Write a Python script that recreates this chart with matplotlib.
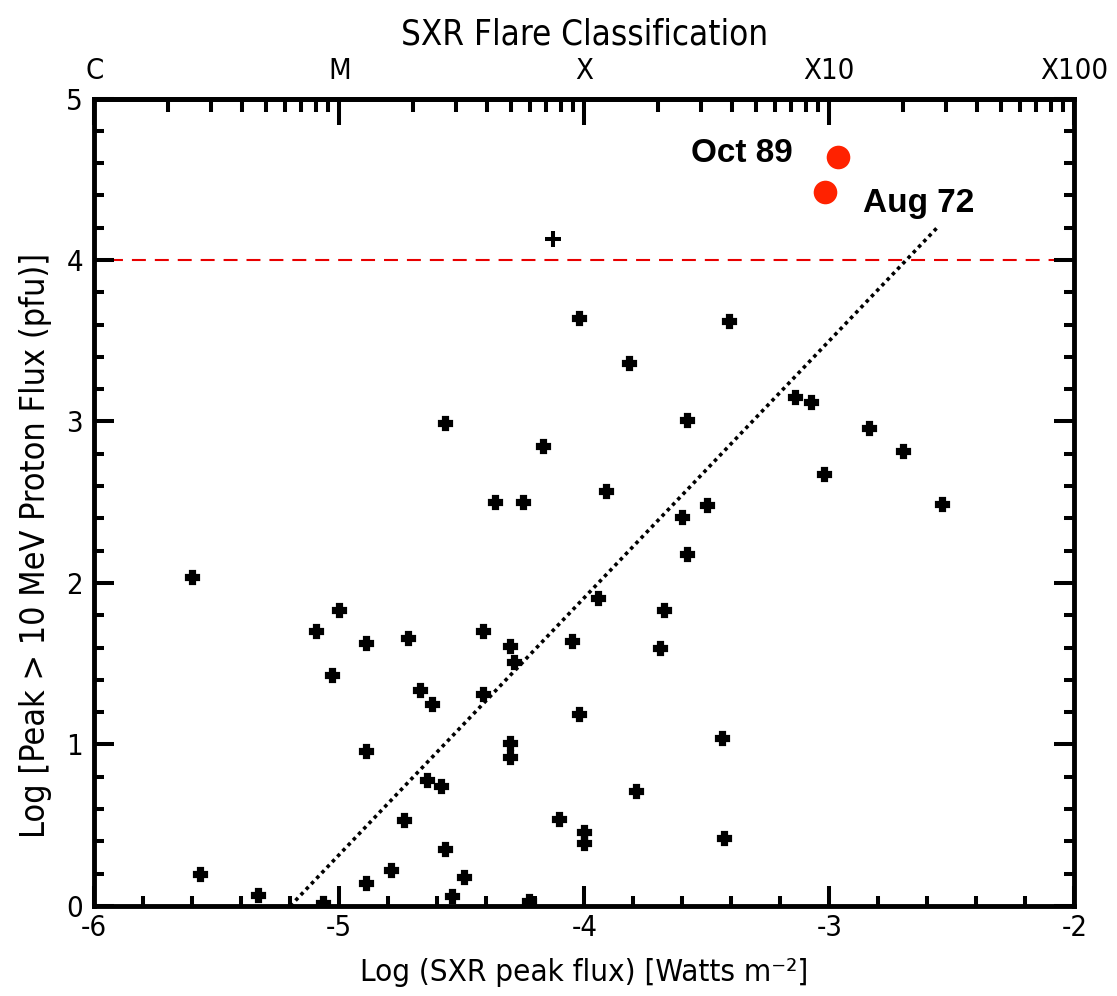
import numpy as np
import matplotlib
matplotlib.use("Agg")
import matplotlib.pyplot as plt
from matplotlib import font_manager
from matplotlib.ticker import MultipleLocator, FixedLocator, FixedFormatter

# top axis: flare class for each decade of SXR flux
class_ticks = [-6, -5, -4, -3, -2]
class_labels = ["C", "M", "X", "X10", "X100"]

# log SXR peak flux vs log peak >10 MeV proton flux
sxr_flux = [
    -5.60, -5.57, -5.33, -5.095, -5.00, -5.03, -5.065, -4.89, -4.89, -4.89,
    -4.79, -4.735, -4.72, -4.67, -4.62, -4.64, -4.585, -4.57, -4.57, -4.54,
    -4.49, -4.415, -4.415, -4.365, -4.305, -4.285, -4.305, -4.305, -4.25, -4.225,
    -4.17, -4.105, -4.05, -4.02, -4.02, -4.00, -4.00, -3.945, -3.913, -3.816,
    -3.79, -3.69, -3.675, -3.60, -3.58, -3.58, -3.50, -3.44, -3.43, -3.41,
    -3.14, -3.076, -3.02, -2.837, -2.70, -2.54,
]
proton_flux = [
    2.04, 0.20, 0.07, 1.70, 1.83, 1.43, 0.02, 1.63, 0.96, 0.14,
    0.22, 0.53, 1.66, 1.34, 1.25, 0.78, 0.74, 2.99, 0.35, 0.06,
    0.18, 1.70, 1.31, 2.50, 1.61, 1.51, 1.01, 0.92, 2.50, 0.03,
    2.85, 0.54, 1.64, 3.64, 1.19, 0.46, 0.39, 1.91, 2.57, 3.36,
    0.71, 1.60, 1.83, 2.41, 3.01, 2.18, 2.48, 1.04, 0.42, 3.62,
    3.15, 3.12, 2.675, 2.96, 2.82, 2.49,
]

# single event drawn with a thin plus
odd_flux = [-4.128]
odd_proton = [4.13]

# the two big events
big_names = ["Oct 89", "Aug 72"]
big_flux = [-2.964, -3.017]
big_proton = [4.64, 4.42]

# fit line end points and the 10^4 pfu threshold
fit_flux = [-5.20, -2.56]
fit_proton = [0.0, 4.20]
threshold = 4.0
threshold_span = [-5.94, -2.015]


def find_narrow_font():
    # look for any condensed / narrow sans face that is installed
    prefs = ["LiberationSansNarrow-Regular", "DejaVuSansCondensed.",
             "NotoSans-Condensed.", "NotoSans-CondensedRegular",
             "RobotoCondensed-Regular", "OpenSans_Condensed-Regular",
             "OpenSans-CondensedRegular"]
    entries = font_manager.fontManager.ttflist
    for p in prefs:
        for e in entries:
            if p in e.fname.split("/")[-1]:
                return e
    for e in entries:
        fn = e.fname.split("/")[-1].lower()
        if ("condensed" in fn or "narrow" in fn) and "bold" not in fn \
                and "italic" not in fn and "oblique" not in fn and e.weight in (400, "normal", "regular"):
            return e
    return None


narrow = find_narrow_font()
if narrow is not None:
    plt.rcParams["font.family"] = narrow.name
    plt.rcParams["font.stretch"] = narrow.stretch
    k = 1.0
else:
    plt.rcParams["font.family"] = "DejaVu Sans"
    k = 0.8
plt.rcParams["axes.unicode_minus"] = False

names = {f.name for f in font_manager.fontManager.ttflist}
BOLD = "Liberation Sans" if "Liberation Sans" in names else "DejaVu Sans"

fig = plt.figure(figsize=(11.17, 9.96), dpi=100)
ax = fig.add_axes([0.0844, 0.0904, 0.8774, 0.8107])

ax.plot(fit_flux, fit_proton, color="black", lw=2.6,
        linestyle=(0, (1, 1.1)), zorder=2)
ax.hlines(threshold, threshold_span[0], threshold_span[1], color="#e80000",
          lw=1.5, linestyles=(0, (6.7, 4.3)), zorder=1)

ax.plot(sxr_flux, proton_flux, linestyle="none", marker="P", ms=8.8,
        mew=2.3, mfc="black", mec="black", zorder=3)
ax.plot(odd_flux, odd_proton, linestyle="none", marker="+", ms=11,
        mew=2.9, color="black", zorder=3)
ax.plot(big_flux, big_proton, linestyle="none", marker="o", ms=17,
        mew=0, color="#ff2200", zorder=4)

ax.text(big_flux[0] - 0.184, big_proton[0] - 0.033, big_names[0], ha="right",
        va="baseline", fontsize=24, fontweight="bold", family=BOLD,
        fontstretch="normal")
ax.text(big_flux[1] + 0.154, big_proton[1] - 0.124, big_names[1], ha="left",
        va="baseline", fontsize=24, fontweight="bold", family=BOLD,
        fontstretch="normal")

ax.set_xlim(-6, -2)
ax.set_ylim(0, 5)

for s in ax.spines.values():
    s.set_linewidth(3.5)

ax.xaxis.set_major_locator(MultipleLocator(1))
ax.xaxis.set_minor_locator(MultipleLocator(0.2))
ax.yaxis.set_major_locator(MultipleLocator(1))
ax.yaxis.set_minor_locator(MultipleLocator(0.2))
ax.tick_params(which="both", direction="in", width=2.9, top=False,
               right=True, labelsize=21 * k, colors="black")
ax.tick_params(which="major", length=14.5)
ax.tick_params(which="minor", length=7.5)
ax.tick_params(axis="x", pad=6)
ax.tick_params(axis="y", pad=8)

ax.set_xlabel("Log (SXR peak flux) [Watts m\u207b\u00b2]",
              fontsize=22.5 * k, labelpad=11)
ax.set_ylabel("Log [Peak > 10 MeV Proton Flux (pfu)]", fontsize=24.5 * k)
ax.yaxis.set_label_coords(-0.043, 0.447)

# flare class axis along the top, log spaced minor ticks inside each decade
top = ax.secondary_xaxis("top")
minor_pos = [d + np.log10(m) for d in class_ticks[:-1] for m in range(2, 10)]
top.xaxis.set_major_locator(FixedLocator(class_ticks))
top.xaxis.set_major_formatter(FixedFormatter(class_labels))
top.xaxis.set_minor_locator(FixedLocator(minor_pos))
top.tick_params(which="both", direction="in", width=2.9, labelsize=21 * k,
                pad=10)
top.tick_params(which="major", length=19)
top.tick_params(which="minor", length=9.5)
top.spines["top"].set_linewidth(3.5)
top.set_xlabel("SXR Flare Classification", fontsize=25 * k, labelpad=9)

fig.savefig("out.png", dpi=100)
